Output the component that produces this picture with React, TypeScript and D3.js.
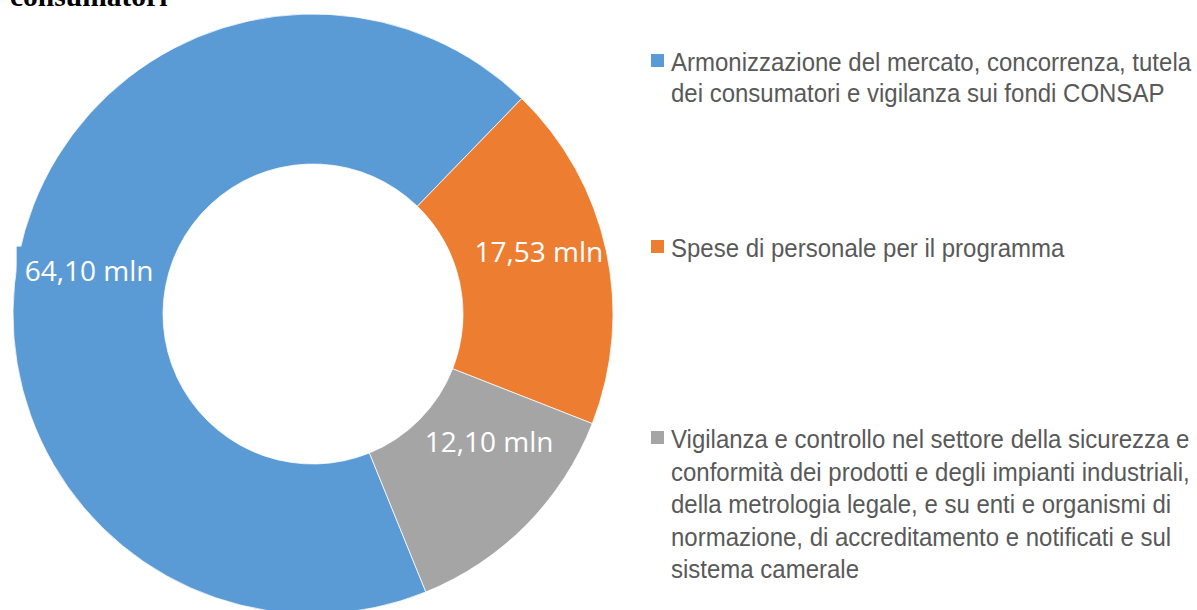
import React from "react";
import * as d3 from "d3";

const categories = [
  "Armonizzazione del mercato, concorrenza, tutela dei consumatori e vigilanza sui fondi CONSAP",
  "Spese di personale per il programma",
  "Vigilanza e controllo nel settore della sicurezza e conformità dei prodotti e degli impianti industriali, della metrologia legale, e su enti e organismi di normazione, di accreditamento e notificati e sul sistema camerale",
];
const values = [64.1, 17.53, 12.1];
const valueLabels = ["64,10 mln", "17,53 mln", "12,10 mln"];
const legendLines = [
  ["Armonizzazione del mercato, concorrenza, tutela", "dei consumatori e vigilanza sui fondi CONSAP"],
  ["Spese di personale per il programma"],
  [
    "Vigilanza e controllo nel settore della sicurezza e",
    "conformità dei prodotti e degli impianti industriali,",
    "della metrologia legale, e su enti e organismi di",
    "normazione, di accreditamento e notificati e sul",
    "sistema camerale",
  ],
];
const titleText = "consumatori";

const colors = ["#5B9BD5", "#ED7D31", "#A5A5A5"];
const W = 1197;
const H = 610;
const cx = 313;
const cy = 314;
const outerR = 300;
const innerR = 150;
const startDeg = 157.9;
const labelOffsets = [
  [-3, 0],
  [6, -14],
  [16, -30],
];
const legendBaselines = [71, 257, 448];
const lineSteps = [30.5, 31, 32.5];

export default function App() {
  const pie = d3
    .pie<number>()
    .sort(null)
    .value((d) => d)
    .startAngle((startDeg * Math.PI) / 180)
    .endAngle((startDeg * Math.PI) / 180 + 2 * Math.PI);
  const arcs = pie(values);
  const arc = d3.arc<d3.PieArcDatum<number>>().innerRadius(innerR).outerRadius(outerR);
  const labelArc = d3
    .arc<d3.PieArcDatum<number>>()
    .innerRadius((innerR + outerR) / 2)
    .outerRadius((innerR + outerR) / 2);

  return (
    <svg
      width={W}
      height={H}
      style={{ position: "absolute", left: 0, top: 0, background: "#fff" }}
    >
      <text
        x={10}
        y={6}
        fontFamily="'Liberation Serif', 'Times New Roman', serif"
        fontWeight="bold"
        fontSize={29.5}
        fill="#000"
      >
        {titleText}
      </text>
      <g transform={`translate(${cx},${cy})`}>
        {arcs.map((a, i) => (
          <path key={i} d={arc(a) || ""} fill={colors[i]} stroke="#fff" strokeWidth={0.75} />
        ))}
        {arcs.map((a, i) => {
          const [lx, ly] = labelArc.centroid(a);
          const x = lx + labelOffsets[i][0];
          const y = ly + labelOffsets[i][1];
          return (
            <g key={"l" + i}>
              {i === 0 && (
                <rect x={x - 72.5} y={y - 24.5} width={145} height={50} fill={colors[i]} />
              )}
              <text
                x={x}
                y={y + 10}
                textAnchor="middle"
                fontFamily="'Open Sans', sans-serif"
                fontSize={28}
                fill="#fff"
              >
                {valueLabels[i]}
              </text>
            </g>
          );
        })}
      </g>
      <g>
        {legendLines.map((lines, i) => (
          <g key={"lg" + i}>
            <rect
              x={651}
              y={legendBaselines[i] - 17}
              width={13}
              height={13}
              fill={colors[i]}
            >
              <title>{categories[i]}</title>
            </rect>
            {lines.map((ln, j) => (
              <text
                key={j}
                transform={`translate(671,${legendBaselines[i] + j * lineSteps[i]}) scale(1,1.08)`}
                fontFamily="'Liberation Sans', Arial, sans-serif"
                fontSize={24}
                fill="#595959"
              >
                {ln}
              </text>
            ))}
          </g>
        ))}
      </g>
    </svg>
  );
}
